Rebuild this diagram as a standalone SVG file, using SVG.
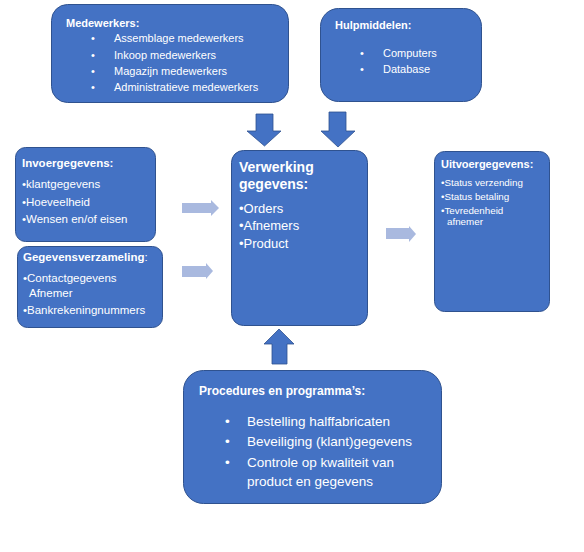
<svg xmlns="http://www.w3.org/2000/svg" width="584" height="552" viewBox="0 0 584 552">
<style>
.box{fill:#4472C4;stroke:#2F528F;stroke-width:1}
.arr{fill:#4472C4;stroke:#2F528F;stroke-width:0.8}
.light{fill:#A9B9DF}
text{font-family:"Liberation Sans",Arial,sans-serif;fill:#FFFFFF}
.b{font-weight:bold}
</style>
<rect width="584" height="552" fill="#FFFFFF"/>
<g id="medewerkers">
<rect class="box" x="51.5" y="4.5" width="237" height="98" rx="16"/>
<text class="b" x="66" y="27" font-size="11">Medewerkers:</text>
<g font-size="11">
<text x="91" y="42">•</text><text x="114" y="42">Assemblage medewerkers</text>
<text x="91" y="58.5">•</text><text x="114" y="58.5">Inkoop medewerkers</text>
<text x="91" y="75">•</text><text x="114" y="75">Magazijn medewerkers</text>
<text x="91" y="91">•</text><text x="114" y="91">Administratieve medewerkers</text>
</g>
</g>
<g id="hulpmiddelen">
<rect class="box" x="320.5" y="8.5" width="161" height="93" rx="18"/>
<text class="b" x="335" y="29" font-size="11">Hulpmiddelen:</text>
<g font-size="11">
<text x="360" y="57">•</text><text x="383" y="57">Computers</text>
<text x="360" y="73">•</text><text x="383" y="73">Database</text>
</g>
</g>
<g id="invoergegevens">
<rect class="box" x="15.5" y="147.5" width="140" height="94" rx="10"/>
<text class="b" x="22" y="167" font-size="11.5">Invoergegevens:</text>
<g font-size="11.5">
<text x="22" y="188">•klantgegevens</text>
<text x="22" y="206">•Hoeveelheid</text>
<text x="22" y="223">•Wensen en/of eisen</text>
</g>
</g>
<g id="gegevensverzameling">
<rect class="box" x="17.5" y="246.5" width="145" height="81" rx="10"/>
<text x="23" y="261" font-size="11.5"><tspan class="b">Gegevensverzameling</tspan>:</text>
<g font-size="11.5">
<text x="23" y="282">•Contactgegevens</text>
<text x="29" y="297">Afnemer</text>
<text x="23" y="314">•Bankrekeningnummers</text>
</g>
</g>
<g id="verwerking">
<rect class="box" x="231.5" y="150.5" width="136" height="175" rx="12"/>
<text class="b" x="239" y="172" font-size="14">Verwerking</text>
<text class="b" x="239" y="189" font-size="14">gegevens:</text>
<g font-size="13">
<text x="239" y="212.5">•Orders</text>
<text x="239" y="230">•Afnemers</text>
<text x="239" y="248">•Product</text>
</g>
</g>
<g id="uitvoergegevens">
<rect class="box" x="434.5" y="151.5" width="115" height="160" rx="10"/>
<text class="b" x="441" y="168" font-size="11">Uitvoergegevens:</text>
<g font-size="9.8">
<text x="441" y="186">•Status verzending</text>
<text x="441" y="200">•Status betaling</text>
<text x="441" y="214">•Tevredenheid</text>
<text x="447" y="225">afnemer</text>
</g>
</g>
<g id="procedures">
<rect class="box" x="183.5" y="370.5" width="258" height="133" rx="20"/>
<text class="b" x="199" y="395" font-size="12">Procedures en programma’s:</text>
<g font-size="13.5">
<text x="225" y="426">•</text><text x="247" y="426">Bestelling halffabricaten</text>
<text x="225" y="446">•</text><text x="247" y="446">Beveiliging (klant)gegevens</text>
<text x="225" y="467">•</text><text x="247" y="467">Controle op kwaliteit van</text>
<text x="247" y="486">product en gegevens</text>
</g>
</g>
<g id="connectors">
<polygon class="arr" points="256,114 273,114 273,131 281,131 264.5,146 247,131 256,131"/>
<polygon class="arr" points="329,112 346,112 346,131 355,131 338,147 321,131 329,131"/>
<polygon class="arr" points="279,329 294,344 287,344 287,364 272,364 272,344 264,344"/>
<polygon class="light" points="182,203 211,203 211,200 219,208 211,216 211,213 182,213"/>
<polygon class="light" points="182,266 206,266 206,263 213,271 206,279 206,277 182,277"/>
<polygon class="light" points="386,228 409,228 409,226 416,234 409,242 409,239 386,239"/>
</g>
</svg>
